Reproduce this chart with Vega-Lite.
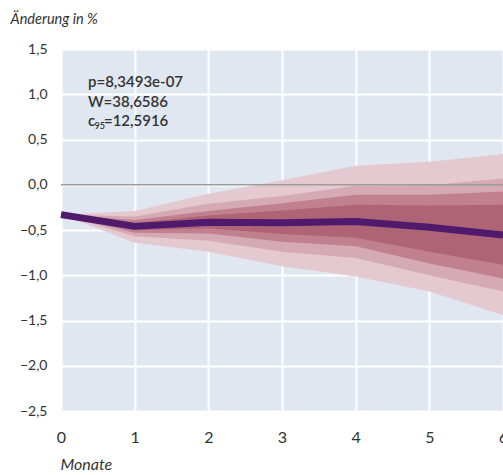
{
  "$schema": "https://vega.github.io/schema/vega-lite/v6.json",
  "width": 442,
  "height": 362,
  "autosize": "none",
  "padding": {"left": 61, "top": 49, "right": 0, "bottom": 64},
  "background": "white",
  "config": {
    "view": {"fill": "#e1e7f1", "stroke": null},
    "font": "Lato"
  },
  "datasets": {
    "fan": [
      {"monat": 0, "med": -0.33, "lo1": -0.33, "hi1": -0.33, "lo2": -0.33, "hi2": -0.33, "lo3": -0.33, "hi3": -0.33, "lo4": -0.33, "hi4": -0.33},
      {"monat": 1, "med": -0.46, "lo1": -0.64, "hi1": -0.29, "lo2": -0.57, "hi2": -0.35, "lo3": -0.53, "hi3": -0.39, "lo4": -0.5, "hi4": -0.42},
      {"monat": 2, "med": -0.415, "lo1": -0.74, "hi1": -0.1, "lo2": -0.62, "hi2": -0.21, "lo3": -0.54, "hi3": -0.29, "lo4": -0.48, "hi4": -0.34},
      {"monat": 3, "med": -0.42, "lo1": -0.9, "hi1": 0.05, "lo2": -0.74, "hi2": -0.125, "lo3": -0.63, "hi3": -0.205, "lo4": -0.545, "hi4": -0.285},
      {"monat": 4, "med": -0.405, "lo1": -1.015, "hi1": 0.21, "lo2": -0.81, "hi2": -0.01, "lo3": -0.68, "hi3": -0.11, "lo4": -0.585, "hi4": -0.22},
      {"monat": 5, "med": -0.47, "lo1": -1.18, "hi1": 0.255, "lo2": -1.0, "hi2": -0.005, "lo3": -0.87, "hi3": -0.11, "lo4": -0.74, "hi4": -0.23},
      {"monat": 6, "med": -0.555, "lo1": -1.44, "hi1": 0.34, "lo2": -1.18, "hi2": 0.07, "lo3": -1.035, "hi3": -0.075, "lo4": -0.885, "hi4": -0.22}
    ],
    "stats": [
      {"monat": 0.366, "wert": 1.08, "text": "p=8,3493e-07"},
      {"monat": 0.366, "wert": 0.854, "text": "W=38,6586"}
    ],
    "crit": [
      {"monat": 0.366, "wert": 0.644, "c": "c", "sub": "95", "rest": "=12,5916"}
    ],
    "null": [{"wert": 0}]
  },
  "encoding": {
    "x": {
      "field": "monat",
      "type": "quantitative",
      "scale": {"domain": [0, 6], "nice": false, "zero": false},
      "axis": {
        "values": [0, 1, 2, 3, 4, 5, 6],
        "domain": false,
        "ticks": false,
        "grid": true,
        "gridColor": "white",
        "gridWidth": 2,
        "gridOpacity": 1,
        "labelFontSize": 16,
        "labelColor": "#333333",
        "labelPadding": 18,
        "labelFlush": false,
        "title": "Monate",
        "titleFontSize": 16,
        "titleFontStyle": "italic",
        "titleFontWeight": "normal",
        "titleColor": "#333333",
        "titleAlign": "left",
        "titleAnchor": "start",
        "titleBaseline": "alphabetic",
        "titleX": -1,
        "titleY": 58
      }
    }
  },
  "layer": [
    {
      "data": {"name": "fan"},
      "mark": {"type": "area", "color": "#e4c9d0", "opacity": 1},
      "encoding": {
        "y": {
          "field": "lo1",
          "type": "quantitative",
          "scale": {"domain": [-2.5, 1.5], "nice": false, "zero": false},
          "axis": {
            "values": [-2.5, -2, -1.5, -1, -0.5, 0, 0.5, 1, 1.5],
            "domain": false,
            "ticks": false,
            "grid": true,
            "gridColor": "white",
            "gridWidth": 2,
            "gridOpacity": 1,
            "labelFontSize": 14,
            "labelColor": "#333333",
            "labelPadding": 14,
            "labelFlush": false,
            "labelExpr": "replace(format(datum.value, '.1f'), '.', ',')",
            "title": "Änderung in %",
            "titleAngle": 0,
            "titleFontSize": 14.5,
            "titleFontStyle": "italic",
            "titleFontWeight": "normal",
            "titleColor": "#333333",
            "titleAlign": "left",
            "titleAnchor": "start",
            "titleBaseline": "alphabetic",
            "titleX": -51,
            "titleY": -26
          }
        },
        "y2": {"field": "hi1"}
      }
    },
    {
      "data": {"name": "fan"},
      "mark": {"type": "area", "color": "#d6aab5"},
      "encoding": {"y": {"field": "lo2", "type": "quantitative"}, "y2": {"field": "hi2"}}
    },
    {
      "data": {"name": "fan"},
      "mark": {"type": "area", "color": "#c18090"},
      "encoding": {"y": {"field": "lo3", "type": "quantitative"}, "y2": {"field": "hi3"}}
    },
    {
      "data": {"name": "fan"},
      "mark": {"type": "area", "color": "#ae6476"},
      "encoding": {"y": {"field": "lo4", "type": "quantitative"}, "y2": {"field": "hi4"}}
    },
    {
      "data": {"name": "null"},
      "mark": {"type": "rule", "color": "#9c9c9c", "strokeWidth": 1.5},
      "encoding": {"y": {"field": "wert", "type": "quantitative"}, "x": {"value": 0}, "x2": {"value": 442}}
    },
    {
      "data": {"name": "fan"},
      "mark": {"type": "line", "color": "#4f1a6c", "strokeWidth": 7, "strokeJoin": "round"},
      "encoding": {"y": {"field": "med", "type": "quantitative"}}
    },
    {
      "data": {"name": "stats"},
      "mark": {"type": "text", "align": "left", "baseline": "alphabetic", "fontSize": 15, "fontWeight": 600, "color": "#333333"},
      "encoding": {"y": {"field": "wert", "type": "quantitative"}, "text": {"field": "text"}}
    },
    {
      "data": {"name": "crit"},
      "mark": {"type": "text", "align": "left", "baseline": "alphabetic", "fontSize": 15, "fontWeight": 600, "color": "#333333"},
      "encoding": {"y": {"field": "wert", "type": "quantitative"}, "text": {"field": "c"}}
    },
    {
      "data": {"name": "crit"},
      "mark": {"type": "text", "align": "left", "baseline": "alphabetic", "fontSize": 9, "fontWeight": 600, "color": "#333333", "dx": 6.5, "dy": 3},
      "encoding": {"y": {"field": "wert", "type": "quantitative"}, "text": {"field": "sub"}}
    },
    {
      "data": {"name": "crit"},
      "mark": {"type": "text", "align": "left", "baseline": "alphabetic", "fontSize": 15, "fontWeight": 600, "color": "#333333", "dx": 16},
      "encoding": {"y": {"field": "wert", "type": "quantitative"}, "text": {"field": "rest"}}
    }
  ]
}
